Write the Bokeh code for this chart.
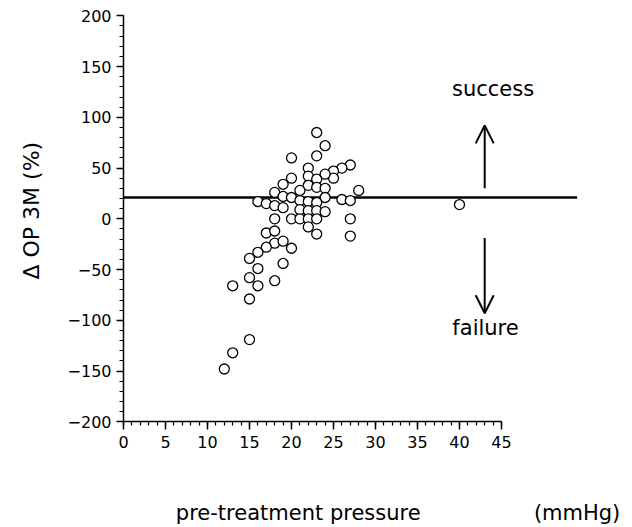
import math
from bokeh.plotting import figure
from bokeh.models import Range1d, SingleIntervalTicker, Arrow, OpenHead, Label
from bokeh.embed import file_html
from bokeh.resources import INLINE

# data
pressure = [23, 24, 20, 23, 22, 22, 27, 26, 25, 25, 24, 23, 20, 19, 18, 19, 20, 21, 22, 23,
            24, 24, 28, 26, 27, 16, 17, 18, 19, 21, 22, 23, 21, 22, 23, 24, 18, 20, 21, 22,
            23, 27, 22, 23, 27, 17, 18, 18, 17, 19, 20, 16, 15, 19, 16, 15, 18, 13, 16, 15,
            15, 13, 12, 40]
delta_op = [85, 72, 60, 62, 50, 42, 53, 50, 47, 40, 44, 39, 40, 34, 26, 22, 21, 28, 33, 31,
            30, 21, 28, 19, 18, 17, 15, 13, 11, 18, 17, 16, 9, 8, 8, 7, 0, 0, 0, 0,
            0, 0, -8, -15, -17, -14, -12, -24, -28, -22, -29, -33, -39, -44, -49, -58, -61, -66, -66, -79,
            -119, -132, -148, 14]
threshold = 21
threshold_extent = (0, 54)
x_axis_limits = (0, 45)
y_axis_limits = (-200, 200)
arrow_x = 43
up_arrow = (30, 92)
down_arrow = (-19, -93)

FONT = "DejaVu Sans"
W, H = 630, 525
XPX, X0PX = 8.4, 123.0      # px per unit, page x of value 0
YPX, Y0PX = 1.015, 218.3    # px per unit, page y of value 0

x_start = -X0PX / XPX
y_end = Y0PX / YPX

p = figure(width=W, height=H, output_backend="svg", toolbar_location=None,
           x_range=Range1d(x_start, x_start + W / XPX),
           y_range=Range1d(y_end - H / YPX, y_end),
           min_border=0)
p.outline_line_color = None
p.grid.visible = False
p.background_fill_color = "white"

for ax in (p.xaxis[0], p.yaxis[0]):
    ax.axis_line_width = 1.5
    ax.major_tick_line_width = 1.5
    ax.minor_tick_line_width = 1.2
    ax.axis_line_color = "black"
    ax.major_tick_line_color = "black"
    ax.minor_tick_line_color = "black"
    ax.major_tick_in = 0
    ax.minor_tick_in = 0
    ax.major_label_text_font = FONT
    ax.major_label_text_font_size = "16px"
    ax.major_label_text_color = "black"

p.xaxis.ticker = SingleIntervalTicker(interval=5, num_minor_ticks=5)
p.xaxis.bounds = x_axis_limits
p.xaxis.fixed_location = y_axis_limits[0]
p.xaxis.major_tick_out = 8
p.xaxis.minor_tick_out = 4
p.xaxis.major_label_standoff = 6

p.yaxis.ticker = SingleIntervalTicker(interval=50, num_minor_ticks=5)
p.yaxis.bounds = y_axis_limits
p.yaxis.fixed_location = x_axis_limits[0]
p.yaxis.major_tick_out = 7
p.yaxis.minor_tick_out = 4
p.yaxis.major_label_standoff = 5

p.segment(x0=[threshold_extent[0]], y0=[threshold], x1=[threshold_extent[1]], y1=[threshold],
          line_color="black", line_width=2.5)

p.scatter(pressure, delta_op, size=10, fill_color="white", line_color="black", line_width=1.3)

for (ys, ye) in (up_arrow, down_arrow):
    p.add_layout(Arrow(end=OpenHead(size=18, line_width=2, line_color="black"),
                       x_start=arrow_x, y_start=ys, x_end=arrow_x, y_end=ye,
                       line_width=2, line_color="black"))

def lab(text, x, y, size="21px", angle=0.0):
    p.add_layout(Label(x=x, y=y, text=text, text_font=FONT, text_font_size=size,
                       text_align="center", text_baseline="middle", angle=angle,
                       text_color="black"))

lab("success", 44.0, 128)
lab("failure", 43.1, -108)
lab("Δ OP 3M (%)", -10.95, 8, size="22px", angle=math.pi / 2)
lab("pre-treatment pressure", 20.8, -290)
lab("(mmHg)", 54.0, -290)

open("out.html", "w").write(file_html(p, INLINE))
